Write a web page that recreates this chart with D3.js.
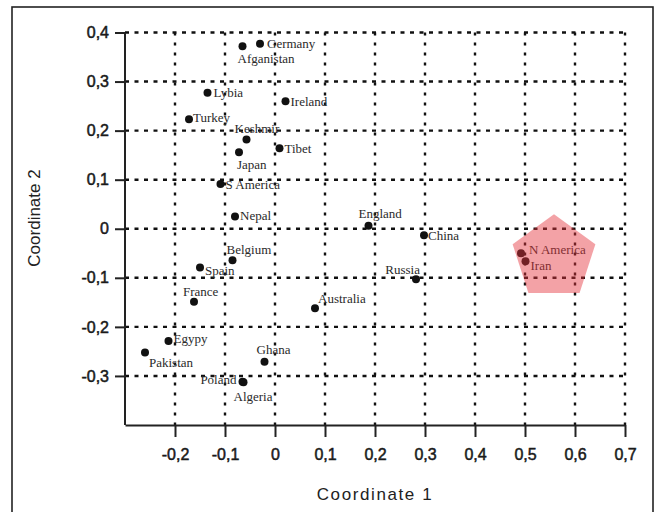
<!DOCTYPE html>
<html>
<head>
<meta charset="utf-8">
<script src="https://cdn.jsdelivr.net/npm/d3@7"></script>
<style>
body { margin: 0; background: #fff; }
</style>
</head>
<body>
<svg id="vis" width="662" height="512"></svg>
<script>
// data
const countries = ["Germany", "Afganistan", "Lybia", "Ireland", "Turkey", "Keshmir", "Tibet", "Japan",
    "S America", "Nepal", "Belgium", "Spain", "France", "Australia", "Egypy", "Pakistan", "Ghana",
    "Poland", "Algeria", "England", "China", "Russia", "N America", "Iran"];
const coord1 = [-0.030, -0.065, -0.135, 0.021, -0.172, -0.057, 0.009, -0.072,
    -0.109, -0.080, -0.085, -0.150, -0.162, 0.080, -0.213, -0.260, -0.021,
    -0.065, -0.063, 0.187, 0.298, 0.282, 0.492, 0.501];
const coord2 = [0.377, 0.372, 0.277, 0.260, 0.223, 0.182, 0.164, 0.156,
    0.091, 0.025, -0.064, -0.079, -0.149, -0.162, -0.229, -0.252, -0.271,
    -0.312, -0.313, 0.006, -0.013, -0.103, -0.050, -0.066];
const x_ticks = [-0.2, -0.1, 0, 0.1, 0.2, 0.3, 0.4, 0.5, 0.6, 0.7];
const y_ticks = [-0.3, -0.2, -0.1, 0, 0.1, 0.2, 0.3, 0.4];
// highlighted cluster (pentagon), centre and circumradius in coordinate units
const cluster_center = [0.558, -0.059];
const cluster_radius = 0.087;

// label placement: [dx, dy, anchor]
const label_offsets = {
    "Germany": [7, 0, "start"], "Afganistan": [-5, 12, "start"], "Lybia": [6, 0, "start"],
    "Ireland": [5, 0, "start"], "Turkey": [4, -2, "start"], "Keshmir": [-12, -11, "start"],
    "Tibet": [5, 0, "start"], "Japan": [-2, 12, "start"], "S America": [5, 0, "start"],
    "Nepal": [5, -1, "start"], "Belgium": [-6, -11, "start"], "Spain": [5, 3, "start"],
    "France": [-11, -10, "start"], "Australia": [3, -10, "start"], "Egypy": [5, -3, "start"],
    "Pakistan": [4, 10, "start"], "Ghana": [-8, -12, "start"], "Poland": [-6, -2, "end"],
    "Algeria": [-10, 14, "start"], "England": [-10, -12, "start"], "China": [4, 0, "start"],
    "Russia": [4, -10, "end"], "N America": [8, -4, "start"], "Iran": [5, 4, "start"]
};

const points = countries.map((name, i) => ({name: name, c1: coord1[i], c2: coord2[i]}));

const svg = d3.select("#vis");
const x = d3.scaleLinear().domain([-0.3, 0.7]).range([125, 625]);
const y = d3.scaleLinear().domain([-0.4, 0.4]).range([425, 32.5]);
const fmt = v => v === 0 ? "0" : String(v).replace(".", ",");

// outer frame
svg.append("rect")
    .attr("x", 12).attr("y", 7).attr("width", 641).attr("height", 510)
    .attr("fill", "none").attr("stroke", "#222").attr("stroke-width", 1.6);

// dashed grid
const grid = svg.append("g")
    .attr("stroke", "#111").attr("stroke-width", 2.4).attr("stroke-dasharray", "4,5.5");
grid.selectAll(".h").data(y_ticks).join("line").attr("class", "h")
    .attr("x1", x(-0.3)).attr("x2", x(0.7))
    .attr("y1", d => y(d)).attr("y2", d => y(d));
grid.selectAll(".v").data(x_ticks).join("line").attr("class", "v")
    .attr("y1", y(0.4)).attr("y2", y(-0.4))
    .attr("x1", d => x(d)).attr("x2", d => x(d))
    .attr("stroke-dasharray", "3,7");

// axes
const xAxis = svg.append("g").attr("transform", `translate(0,${y(-0.4)})`)
    .call(d3.axisBottom(x).tickValues(x_ticks).tickFormat(fmt).tickSize(12).tickPadding(12).tickSizeOuter(0));
const yAxis = svg.append("g").attr("transform", `translate(${x(-0.3)},0)`)
    .call(d3.axisLeft(y).tickValues(y_ticks).tickFormat(fmt).tickSize(10).tickPadding(6).tickSizeOuter(0));
[xAxis, yAxis].forEach(a => {
    a.selectAll("path, line").attr("stroke", "#222").attr("stroke-width", 2);
    a.selectAll("text").attr("font-family", "Liberation Sans, Arial, sans-serif")
        .attr("font-size", 16).attr("fill", "#1a1a1a")
        .attr("stroke", "#1a1a1a").attr("stroke-width", 0.5);
});
// the y axis line starts at the top grid line
yAxis.select("path").attr("d", `M0,${y(0.4)}V${y(-0.4)}`);

// axis titles
svg.append("text")
    .attr("x", 375).attr("y", 500)
    .attr("text-anchor", "middle")
    .attr("font-family", "Liberation Sans, Arial, sans-serif")
    .attr("font-size", 17).attr("letter-spacing", 1.6).attr("fill", "#222")
    .text("Coordinate 1");
svg.append("text")
    .attr("transform", "translate(40,218) rotate(-90)")
    .attr("text-anchor", "middle")
    .attr("font-family", "Liberation Sans, Arial, sans-serif")
    .attr("font-size", 17).attr("fill", "#222")
    .text("Coordinate 2");

// points
svg.append("g").selectAll("circle").data(points).join("circle")
    .attr("cx", d => x(d.c1)).attr("cy", d => y(d.c2))
    .attr("r", 4).attr("fill", "#111");

svg.append("g").selectAll("text").data(points).join("text")
    .attr("x", d => x(d.c1) + label_offsets[d.name][0])
    .attr("y", d => y(d.c2) + label_offsets[d.name][1])
    .attr("dy", "0.35em")
    .attr("text-anchor", d => label_offsets[d.name][2])
    .attr("font-family", "Liberation Serif, Times New Roman, serif")
    .attr("font-size", 13).attr("fill", "#2a2a2a")
    .text(d => d.name);

// highlight pentagon drawn over the cluster
const r_px = x(cluster_radius) - x(0);
const cx = x(cluster_center[0]), cy = y(cluster_center[1]);
const pent = d3.range(5).map(k => {
    const a = -Math.PI / 2 + k * 2 * Math.PI / 5;
    return [cx + r_px * Math.cos(a), cy + r_px * Math.sin(a)];
});
svg.append("path")
    .attr("d", d3.line()(pent) + "Z")
    .attr("fill", "#e5343e").attr("fill-opacity", 0.46);
</script>
</body>
</html>
